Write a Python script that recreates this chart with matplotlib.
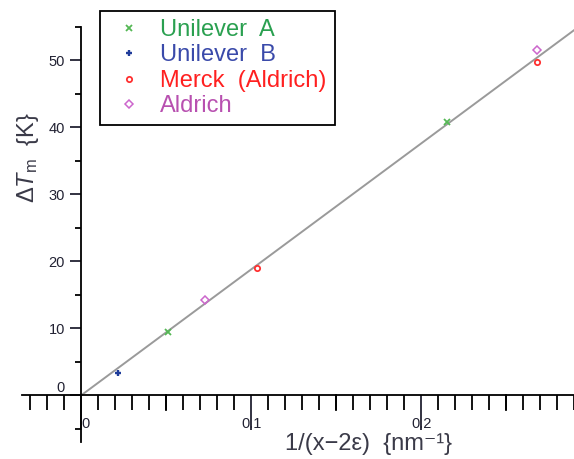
import matplotlib
matplotlib.use("Agg")
import matplotlib.pyplot as plt
from matplotlib.ticker import MultipleLocator, FixedLocator
import numpy as np

plt.rcParams['font.family'] = ['Liberation Sans', 'DejaVu Sans']
plt.rcParams['mathtext.fontset'] = 'custom'
plt.rcParams['mathtext.rm'] = 'Liberation Sans'
plt.rcParams['mathtext.it'] = 'Liberation Sans:italic'

# data
unilever_a_x = [0.0512, 0.2153]
unilever_a_y = [9.4, 40.8]
unilever_b_x = [0.0218]
unilever_b_y = [3.3]
merck_x = [0.1035, 0.2682]
merck_y = [19.0, 49.8]
aldrich_x = [0.0729, 0.2682]
aldrich_y = [14.2, 51.6]
fit_slope = 188.0

x_major = [0.0, 0.1, 0.2]
x_major_labels = ["0", "0.1", "0.2"]
x_mid = [-0.05, 0.05, 0.15, 0.25]
y_major = [0, 10, 20, 30, 40, 50]
y_major_labels = ["0", "10", "20", "30", "40", "50"]

W, H = 574, 459
fig = plt.figure(figsize=(W / 100, H / 100), dpi=100)
ax = fig.add_axes([22 / W, 17 / H, 552 / W, 415 / H])
xmin, xmax = -0.035, 0.29
ymin, ymax = -7, 55
ax.set_xlim(xmin, xmax)
ax.set_ylim(ymin, ymax)

for s in ['top', 'right']:
    ax.spines[s].set_visible(False)
ax.spines['left'].set_position(('data', 0))
ax.spines['bottom'].set_position(('data', 0))
ax.spines['left'].set_linewidth(1.3)
ax.spines['bottom'].set_linewidth(1.3)

# fit line
lx = np.array([0.0, xmax])
ax.plot(lx, fit_slope * lx, color='#9a9a9a', lw=1.4, zorder=2)

ax.plot(unilever_a_x, unilever_a_y, 'x', color='#55b855', ms=4, mew=1.3, ls='none', label='Unilever  A', zorder=3)
ax.plot(unilever_b_x, unilever_b_y, '+', color='#1f3c9a', ms=5, mew=1.7, ls='none', label='Unilever  B', zorder=3)
ax.plot(merck_x, merck_y, 'o', mfc='none', mec='#ff3030', ms=3.8, mew=1.3, ls='none', label='Merck  (Aldrich)', zorder=3)
ax.plot(aldrich_x, aldrich_y, 'D', mfc='none', mec='#cc66cc', ms=3.6, mew=1.1, ls='none', label='Aldrich', zorder=3)

tick_color = '#222233'
# x ticks
ax.xaxis.set_major_locator(FixedLocator(x_major))
ax.xaxis.set_minor_locator(MultipleLocator(0.01))
ax.set_xticklabels(x_major_labels)
ax.tick_params(axis='x', which='major', direction='out', length=25, width=1.3,
               labelsize=10.5, pad=-9, colors=tick_color)
ax.tick_params(axis='x', which='minor', direction='out', length=11, width=1.3)
xl = ax.get_xticklabels()
for lab in xl:
    lab.set_ha('center')
xl[0].set_ha('left')

# intermediate ticks (every 0.05), drawn in pixel lengths
px_per_unit = (415 / (ymax - ymin))
mid_len = 15 / px_per_unit
for xv in x_mid:
    if xmin < xv < xmax:
        ax.plot([xv, xv], [0, -mid_len], color='black', lw=1.3, clip_on=False, zorder=1)

# y ticks
ax.yaxis.set_major_locator(FixedLocator(y_major))
ax.yaxis.set_minor_locator(MultipleLocator(5))
ax.set_yticklabels(y_major_labels)
ax.tick_params(axis='y', which='major', direction='out', length=8, width=1.3,
               labelsize=10.5, pad=4, colors=tick_color)
ax.tick_params(axis='y', which='minor', direction='out', length=4, width=1.3)
ax.get_yticklabels()[0].set_va('bottom')

label_color = '#3a3a48'
ax.text(0.169, -7.3, "1/(x\u22122\u03b5)  {nm\u207b\u00b9}", transform=ax.transData,
        ha='center', va='center', fontsize=17, color=label_color)
fig.text(28 / W, 1 - 158 / H, r"$\Delta T_{\rm m}$  {K}", rotation=90, ha='center', va='center',
         fontsize=17, color=label_color)

leg = ax.legend(loc='upper left', bbox_to_anchor=(100 / W, 1 - 11 / H),
                bbox_transform=fig.transFigure, fontsize=17, frameon=True, fancybox=False,
                handlelength=1.76, handletextpad=0.47, labelspacing=0.15, borderpad=0.33,
                borderaxespad=0, framealpha=1)
leg.get_frame().set_edgecolor('black')
leg.get_frame().set_linewidth(1.3)
for t, c in zip(leg.get_texts(), ['#2aa050', '#3a4aaa', '#ff2020', '#b850b0']):
    t.set_color(c)

fig.savefig('out.png', dpi=100)
